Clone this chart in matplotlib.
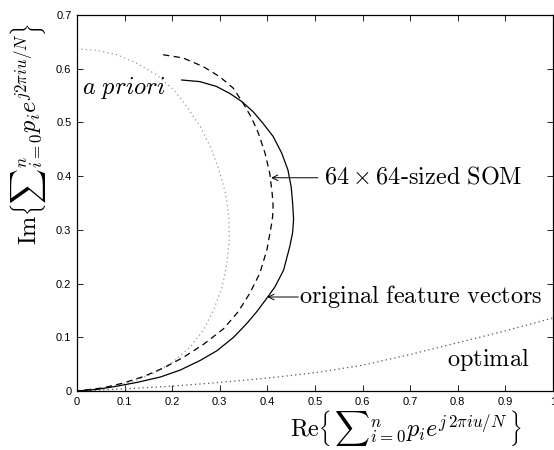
import matplotlib
matplotlib.use("Agg")
import matplotlib.pyplot as plt

plt.rcParams['mathtext.fontset'] = 'cm'
plt.rcParams['font.family'] = ['Liberation Sans', 'DejaVu Sans']

# original feature vectors (solid)
orig_x = [0.220, 0.258, 0.293, 0.321, 0.346, 0.370, 0.391, 0.412, 0.430, 0.443, 0.450, 0.453, 0.455,
          0.453, 0.447, 0.434, 0.416, 0.399, 0.378, 0.357, 0.329, 0.294, 0.259, 0.217, 0.175, 0.126,
          0.084, 0.042, 0.0]
orig_y = [0.579, 0.576, 0.567, 0.554, 0.539, 0.520, 0.498, 0.474, 0.443, 0.412, 0.380, 0.350, 0.320,
          0.295, 0.269, 0.225, 0.194, 0.173, 0.148, 0.126, 0.100, 0.075, 0.057, 0.039, 0.026, 0.016,
          0.009, 0.003, 0.0]

# 64x64-sized SOM (dashed)
som_x = [0.181, 0.223, 0.265, 0.300, 0.328, 0.349, 0.367, 0.381, 0.395, 0.405, 0.410, 0.412, 0.411,
         0.409, 0.399, 0.384, 0.363, 0.339, 0.308, 0.266, 0.224, 0.182, 0.140, 0.098, 0.056, 0.0]
som_y = [0.626, 0.620, 0.604, 0.585, 0.564, 0.536, 0.508, 0.480, 0.443, 0.405, 0.368, 0.345, 0.325,
         0.312, 0.263, 0.219, 0.182, 0.148, 0.116, 0.087, 0.063, 0.043, 0.027, 0.015, 0.006, 0.0]

# a priori (dotted gray)
apr_x = [0.0, 0.042, 0.084, 0.126, 0.168, 0.203, 0.231, 0.259, 0.280, 0.298, 0.312, 0.319, 0.320,
         0.315, 0.305, 0.287, 0.266, 0.238, 0.203, 0.161, 0.112, 0.063, 0.0]
apr_y = [0.637, 0.634, 0.626, 0.610, 0.588, 0.561, 0.529, 0.492, 0.455, 0.412, 0.368, 0.325, 0.281,
         0.238, 0.194, 0.151, 0.114, 0.082, 0.055, 0.033, 0.016, 0.006, 0.0]

# optimal (dotted)
opt_x = [0.0, 0.1, 0.2, 0.3, 0.4, 0.5, 0.6, 0.7, 0.8, 0.9, 1.0]
opt_y = [0.0, 0.004, 0.009, 0.016, 0.024, 0.034, 0.048, 0.068, 0.090, 0.112, 0.136]

xticks = [0, 0.1, 0.2, 0.3, 0.4, 0.5, 0.6, 0.7, 0.8, 0.9, 1.0]
xticklabels = ['0', '0.1', '0.2', '0.3', '0.4', '0.5', '0.6', '0.7', '0.8', '0.9', '1']
yticks = [0, 0.1, 0.2, 0.3, 0.4, 0.5, 0.6, 0.7]
yticklabels = ['0', '0.1', '0.2', '0.3', '0.4', '0.5', '0.6', '0.7']

fig = plt.figure(figsize=(5.54, 4.5), dpi=100)
ax = fig.add_axes([77/554, 59/450, 476/554, 376/450])

ax.plot(apr_x, apr_y, color='#999999', linestyle=(0, (1, 2.5)), linewidth=0.9)
ax.plot(opt_x, opt_y, color='#555555', linestyle=(0, (1, 2.5)), linewidth=0.9)
ax.plot(som_x, som_y, color='black', linestyle=(0, (5, 3.5)), linewidth=0.9)
ax.plot(orig_x, orig_y, color='black', linestyle='-', linewidth=0.9)

ax.set_xlim(0, 1)
ax.set_ylim(0, 0.7)
ax.set_xticks(xticks)
ax.set_xticklabels(xticklabels)
ax.set_yticks(yticks)
ax.set_yticklabels(yticklabels)
ax.tick_params(direction='in', length=4, width=0.6, labelsize=8, top=True, right=True, pad=4)
for s in ax.spines.values():
    s.set_linewidth(0.9)

ax.annotate('', xy=(0.408, 0.397), xytext=(0.506, 0.397),
            arrowprops=dict(arrowstyle='->', lw=0.7, color='black', shrinkA=0, shrinkB=0))
ax.text(0.518, 0.397, r'$64\times64\mathrm{\text{-}sized\ SOM}$', fontsize=17.5, va='center', ha='left')

ax.annotate('', xy=(0.400, 0.175), xytext=(0.465, 0.175),
            arrowprops=dict(arrowstyle='->', lw=0.7, color='black', shrinkA=0, shrinkB=0))
ax.text(0.466, 0.175, r'$\mathrm{original\ feature\ vectors}$', fontsize=17.5, va='center', ha='left')

ax.text(0.95, 0.058, r'$\mathrm{optimal}$', fontsize=17.5, va='center', ha='right')
ax.text(0.011, 0.564, r'$a\ priori$', fontsize=17.5, va='center', ha='left')

fig.text(406/554, 1 - 428/450, r'$\mathrm{Re}\left\{\,{\sum}_{i=0}^{n} p_i e^{j\,2\pi i u/N}\,\right\}$',
         fontsize=17.5, ha='center', va='center')
fig.text(28/554, 1 - 134/450, r'$\mathrm{Im}\left\{{\sum}_{i=0}^{n} p_i e^{j2\pi i u/N}\right\}$',
         fontsize=17.5, ha='center', va='center', rotation=90)

fig.savefig('out.png', dpi=100)
